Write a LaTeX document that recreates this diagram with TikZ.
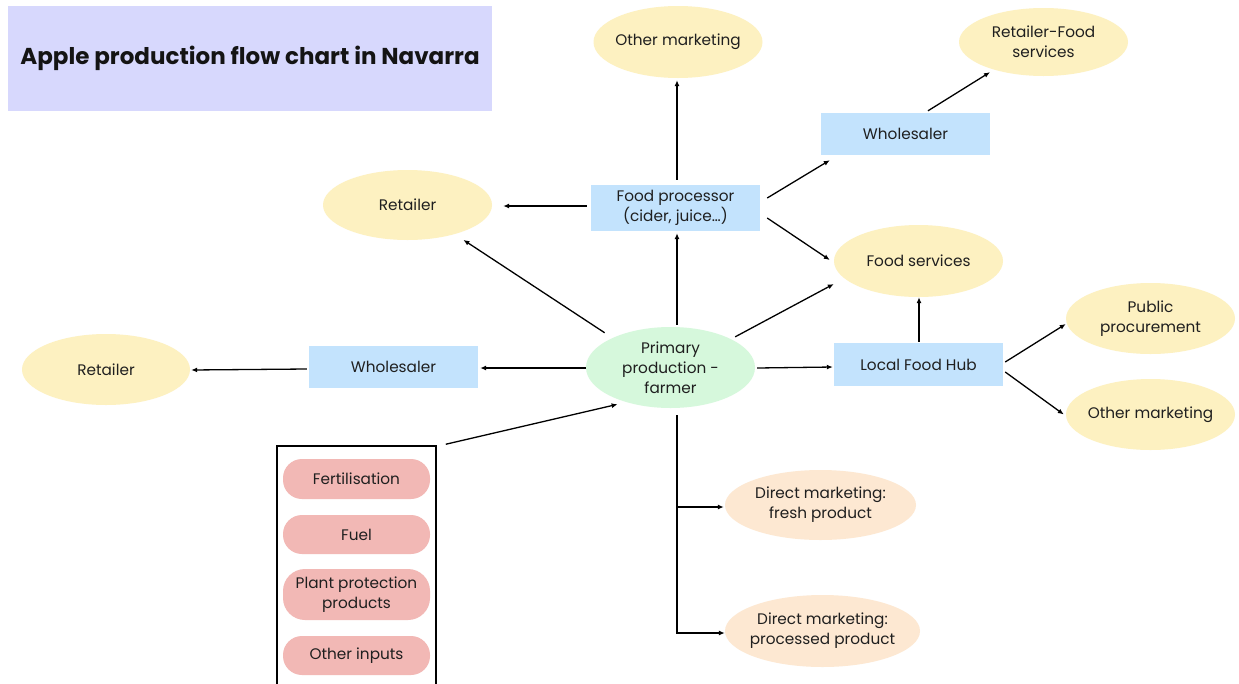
\documentclass[tikz,border=0pt]{standalone}
\usepackage{fontspec}
\setmainfont{Poppins}
\usetikzlibrary{shapes.geometric,arrows.meta}
\definecolor{titlebg}{HTML}{D7D8FD}
\definecolor{ylw}{HTML}{FDF1C1}
\definecolor{blu}{HTML}{C3E3FD}
\definecolor{grn}{HTML}{D6F8DC}
\definecolor{pch}{HTML}{FDE8D2}
\definecolor{pnk}{HTML}{F2B8B5}
\tikzset{
  lbl/.style={font=\fontsize{15.3}{19.8}\selectfont, align=center, inner sep=0pt, text=black!88},
  % ellipse size is fixed; its text is set as a centred label
  oval/.style={ellipse, draw=none, fill=ylw, minimum width=169pt, minimum height=71pt, inner sep=0pt,
               label={[lbl]center:#1}},
  boxnode/.style={lbl, rectangle, fill=blu, minimum width=169pt, minimum height=42pt},
  pill/.style={lbl, rectangle, rounded corners=19pt, fill=pnk, minimum width=147pt, minimum height=39pt},
  arr/.style={-{Latex[length=6pt,width=5pt]}, line width=1.3pt, black}
}
\begin{document}
\begin{tikzpicture}[x=1pt,y=-1pt]
\useasboundingbox (0,0) rectangle (1239,683);
\fill[white] (0,0) rectangle (1239,683);

% title panel
\node[rectangle, fill=titlebg, minimum width=484pt, minimum height=105pt, inner sep=0pt,
      font=\fontsize{23}{27}\selectfont\bfseries, text=black!92] (title) at (250,58.5) {Apple production flow chart in Navarra};

% outlets and intermediaries
\node[oval={Other marketing}, minimum height=72pt] (om1) at (678,42) {};
\node[oval={Retailer-Food\\services}, minimum height=68pt] (rfs) at (1043.5,42) {};
\node[boxnode] (wh2) at (905.5,134) {Wholesaler};
\node[oval={Retailer}, minimum height=70pt] (ret1) at (407.5,205) {};
\node[boxnode, minimum height=46pt] (fp) at (675.5,208) {Food processor\\(cider, juice…)};
\node[oval={Food services}, minimum height=72pt] (fs) at (918.5,261) {};
\node[oval={Public\\procurement}] (pp) at (1150.5,318.5) {};
\node[boxnode, minimum height=43pt] (lfh) at (918.5,364.5) {Local Food Hub};
\node[oval={Other marketing}] (om2) at (1150.5,414.5) {};
\node[oval={Primary\\production -\\farmer}, fill=grn, minimum height=81pt] (prim) at (670.5,367.5) {};
\node[boxnode] (wh1) at (393.5,367) {Wholesaler};
\node[oval={Retailer}, minimum width=168pt] (ret2) at (106,369.5) {};
\node[oval={Direct marketing:\\fresh product}, fill=pch, minimum width=191pt, minimum height=70pt] (dmf) at (820.5,505) {};
\node[oval={Direct marketing:\\processed product}, fill=pch, minimum width=195pt, minimum height=72pt] (dmp) at (822.5,631) {};

% inputs panel
\node[rectangle, draw=black, line width=1.5pt, minimum width=159pt, minimum height=254pt, inner sep=0pt] (inputs) at (356.5,573) {};
\node[pill, minimum height=40pt] (fert) at (356.5,479) {Fertilisation};
\node[pill] (fuel) at (356.5,534.5) {Fuel};
\node[pill, minimum height=51pt, rounded corners=22pt] (ppp) at (356.5,594.5) {Plant protection\\products};
\node[pill] (oth) at (356.5,655.5) {Other inputs};

% flows
\draw[arr] ([shift={(6.5,-2)}]prim.north) -- ([shift={(1.5,2)}]fp.south);
\draw[arr] ([shift={(1.5,-5)}]fp.north) -- ([shift={(1.5,2)}]fp.north |- om1.south);
\draw[arr] ([shift={(-4,-2)}]fp.west) -- ([shift={(11,1)}]ret1.east);
\draw[arr] ([shift={(7,-10)}]fp.east) -- ([shift={(9,5)}]wh2.south west);
\draw[arr] ([shift={(7,10)}]fp.east) -- ([shift={(-4,-1)}]fs.west);
\draw[arr] ([shift={(22.5,-2)}]wh2.north) -- ([shift={(-53.5,-4)}]rfs.south);
\draw[arr] ([shift={(-6,-6)}]prim.north west) -- ([shift={(-4,10)}]ret1.south east);
\draw[arr] ([shift={(4.8,-1.9)}]prim.north east) -- ([shift={(0,23)}]fs.west);
\draw[arr] ([shift={(2,0.5)}]prim.east) -- ([shift={(-1,2.5)}]lfh.west);
\draw[arr] ([shift={(0.5,-1)}]lfh.north) -- ([shift={(0.5,0)}]fs.south);
\draw[arr] ([shift={(2,-2.5)}]lfh.east) -- ([shift={(0,5.5)}]pp.west);
\draw[arr] ([shift={(2,7.5)}]lfh.east) -- ([shift={(-2,0)}]om2.west);
\draw[arr] ([shift={(0,0.5)}]prim.west) -- ([shift={(2,1)}]wh1.east);
\draw[arr] ([shift={(-2,2)}]wh1.west) -- ([shift={(1,0.5)}]ret2.east);
\draw[arr] ([shift={(9,-1)}]inputs.north east) -- ([shift={(7,8)}]prim.south west);

% direct marketing branch
\coordinate (trunk) at ([shift={(6.5,7)}]prim.south);
\coordinate (fj) at ([shift={(-1,2)}]dmf.west);
\draw[arr] (trunk) |- ([shift={(0,2)}]dmp.west);
\draw[arr] (trunk |- fj) -- (fj);
\end{tikzpicture}
\end{document}
